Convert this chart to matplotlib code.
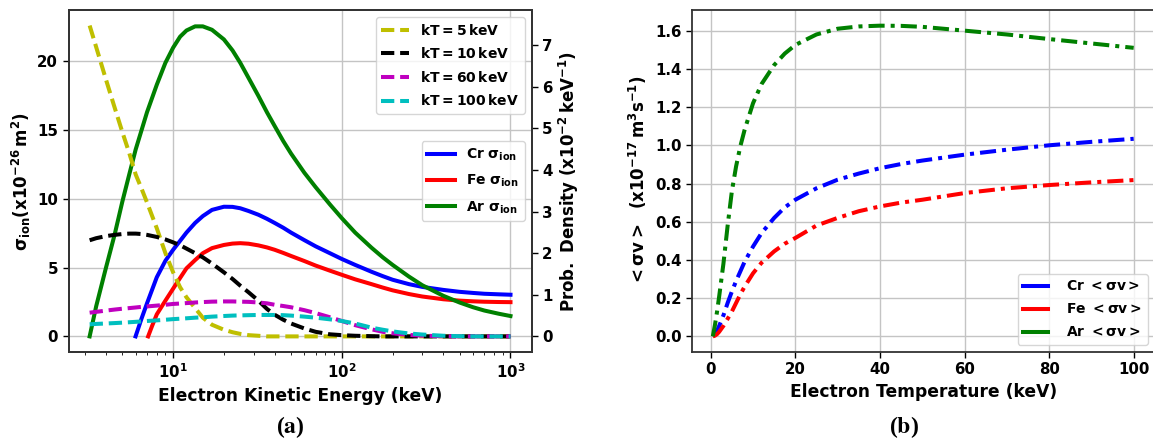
import matplotlib
matplotlib.use("Agg")
import matplotlib.pyplot as plt
import matplotlib.ticker as mticker
import numpy as np

plt.rcParams["font.family"] = ["DejaVu Sans"]
plt.rcParams["font.weight"] = "bold"
plt.rcParams["axes.labelweight"] = "bold"
plt.rcParams["mathtext.fontset"] = "dejavusans"
plt.rcParams["mathtext.default"] = "bf"

# ---- panel (a): ionisation cross sections vs. electron energy (keV) ----
energy = [3.2, 3.5, 4, 4.5, 5, 5.5, 6, 6.5, 7, 8, 9, 10, 11, 12, 13.5, 15,
          17, 20, 22.5, 25, 28, 32, 36, 40, 45, 50, 60, 70, 85, 100, 120,
          150, 175, 200, 250, 300, 400, 500, 600, 700, 850, 1000]

ar_sigma = [0.0, 2.2, 5.0, 7.4, 9.8, 11.8, 13.6, 15.0, 16.3, 18.3, 19.9,
            21.0, 21.8, 22.25, 22.55, 22.55, 22.3, 21.6, 20.8, 19.9, 18.8,
            17.5, 16.3, 15.3, 14.2, 13.3, 11.9, 10.85, 9.6, 8.6, 7.55, 6.45,
            5.75, 5.2, 4.35, 3.72, 2.95, 2.46, 2.12, 1.88, 1.65, 1.48]

cr_energy = [5.99, 6.5, 7, 8, 9, 10, 11, 12, 13.5, 15, 17, 20, 22.5, 25, 28,
             32, 36, 40, 45, 50, 60, 70, 85, 100, 120, 150, 175, 200, 250,
             300, 400, 500, 600, 700, 850, 1000]
cr_sigma = [0.0, 1.3, 2.4, 4.3, 5.5, 6.3, 6.95, 7.55, 8.25, 8.75, 9.2, 9.43,
            9.42, 9.32, 9.12, 8.85, 8.55, 8.25, 7.9, 7.55, 7.0, 6.55, 6.05,
            5.63, 5.2, 4.7, 4.38, 4.12, 3.8, 3.6, 3.38, 3.24, 3.16, 3.1,
            3.06, 3.03]

fe_energy = [7.11, 7.5, 8, 9, 10, 11, 12, 13.5, 15, 17, 20, 22.5, 25, 28, 32,
             36, 40, 45, 50, 60, 70, 85, 100, 120, 150, 175, 200, 250, 300,
             400, 500, 600, 700, 850, 1000]
fe_sigma = [0.0, 0.75, 1.6, 2.6, 3.47, 4.25, 4.95, 5.55, 6.05, 6.42, 6.65,
            6.75, 6.78, 6.74, 6.62, 6.47, 6.3, 6.07, 5.85, 5.48, 5.15, 4.78,
            4.48, 4.15, 3.8, 3.55, 3.35, 3.08, 2.9, 2.7, 2.6, 2.55, 2.52,
            2.5, 2.49]

# Electron energy distributions (x1e-2 per keV), sampled on `energy`
pdf_kt5 = [7.47, 6.95, 6.17, 5.5, 4.91, 4.4, 3.89, 3.55, 3.22, 2.6, 2.0,
           1.54, 1.18, 0.94, 0.68, 0.45, 0.28, 0.16, 0.1, 0.06, 0.03, 0.015,
           0.0, 0.0, 0.0, 0.0, 0.0, 0.0, 0.0, 0.0, 0.0, 0.0, 0.0, 0.0, 0.0,
           0.0, 0.0, 0.0, 0.0, 0.0, 0.0, 0.0]
pdf_kt10 = [2.31, 2.36, 2.41, 2.44, 2.46, 2.47, 2.47, 2.46, 2.44, 2.39,
            2.33, 2.26, 2.19, 2.11, 2.0, 1.9, 1.75, 1.54, 1.38, 1.22, 1.06,
            0.86, 0.66, 0.52, 0.4, 0.31, 0.19, 0.11, 0.05, 0.03, 0.015,
            0.005, 0.0, 0.0, 0.0, 0.0, 0.0, 0.0, 0.0, 0.0, 0.0, 0.0]
pdf_kt60 = [0.57, 0.59, 0.62, 0.645, 0.665, 0.68, 0.695, 0.71, 0.72, 0.74,
            0.76, 0.78, 0.79, 0.8, 0.815, 0.825, 0.835, 0.84, 0.84, 0.835,
            0.83, 0.815, 0.795, 0.76, 0.73, 0.7, 0.63, 0.56, 0.46, 0.37,
            0.27, 0.17, 0.11, 0.075, 0.035, 0.017, 0.004, 0.0, 0.0, 0.0,
            0.0, 0.0]
pdf_kt100 = [0.29, 0.3, 0.31, 0.32, 0.33, 0.34, 0.35, 0.36, 0.37, 0.385,
             0.4, 0.415, 0.425, 0.435, 0.45, 0.46, 0.475, 0.49, 0.5, 0.505,
             0.51, 0.515, 0.515, 0.515, 0.51, 0.5, 0.475, 0.45, 0.41, 0.37,
             0.31, 0.21, 0.16, 0.12, 0.07, 0.045, 0.015, 0.005, 0.0, 0.0,
             0.0, 0.0]

kt_labels = [r"$kT = 5\,keV$", r"$kT = 10\,keV$", r"$kT = 60\,keV$",
             r"$kT = 100\,keV$"]
kt_colors = ["y", "k", "m", "c"]

# ---- panel (b): rate coefficients vs. electron temperature (keV) ----
temperature = [0.5, 1, 1.5, 2, 3, 4, 5, 6, 7, 8, 10, 12, 15, 17.5, 20, 25,
               30, 35, 40, 45, 50, 60, 70, 80, 90, 100]
cr_rate = [0.0, 0.012, 0.03, 0.055, 0.11, 0.175, 0.235, 0.29, 0.34, 0.39,
           0.47, 0.54, 0.62, 0.675, 0.715, 0.775, 0.82, 0.852, 0.88, 0.902,
           0.92, 0.951, 0.977, 1.0, 1.018, 1.034]
fe_rate = [0.0, 0.004, 0.012, 0.024, 0.055, 0.092, 0.13, 0.175, 0.22, 0.26,
           0.33, 0.385, 0.445, 0.485, 0.515, 0.58, 0.62, 0.655, 0.68, 0.7,
           0.715, 0.75, 0.775, 0.792, 0.806, 0.818]
ar_rate = [0.0, 0.06, 0.13, 0.21, 0.38, 0.58, 0.76, 0.89, 0.995, 1.08, 1.22,
           1.32, 1.42, 1.48, 1.525, 1.58, 1.61, 1.622, 1.626, 1.625, 1.62,
           1.60, 1.58, 1.556, 1.533, 1.51]

fig = plt.figure(figsize=(11.53, 4.41), dpi=100)
ax = fig.add_axes([0.0595, 0.202, 0.4015, 0.775])
ax2 = ax.twinx()
axb = fig.add_axes([0.6, 0.202, 0.4015, 0.775])

lw = 2.9
dash = (0, (3.3, 1.45))
dashdot = (0, (4, 1.5, 1, 1.5))

ax.plot(cr_energy, cr_sigma, color="b", lw=lw, label=r"$Cr\ \sigma_{ion}$")
ax.plot(fe_energy, fe_sigma, color="r", lw=lw, label=r"$Fe\ \sigma_{ion}$")
ax.plot(energy, ar_sigma, color="g", lw=lw, label=r"$Ar\ \sigma_{ion}$")
for pdf, c, lab in zip([pdf_kt5, pdf_kt10, pdf_kt60, pdf_kt100],
                       kt_colors, kt_labels):
    ax2.plot(energy, pdf, color=c, lw=lw, ls=dash, label=lab)

ax.set_xscale("log")
ax.set_ylim(-1.13, 23.73)
ax2.set_ylim(-0.373, 7.84)
ax.set_yticks([0, 5, 10, 15, 20])
ax2.set_yticks(range(8))
ax.grid(True, which="major", color="#c4c4c4", lw=1.0)
ax.set_xlabel("Electron Kinetic Energy (keV)", fontsize=12.3)
ax.set_ylabel(r"$\sigma_{ion}(x10^{-26}\,m^2)$", fontsize=12, labelpad=3)
ax2.set_ylabel(r"$Prob.\ Density\ (x10^{-2}\,keV^{-1})$", fontsize=12,
               labelpad=3)

leg_sig = ax.legend(loc="center right", fontsize=10, labelspacing=0.72)
ax.get_legend().remove()
leg_kt = ax2.legend(loc="upper right", fontsize=10, labelspacing=0.62)
ax2.add_artist(leg_sig)

axb.plot(temperature, cr_rate, color="b", lw=lw, ls=dashdot,
         label=r"$Cr\ <\sigma v>$")
axb.plot(temperature, fe_rate, color="r", lw=lw, ls=dashdot,
         label=r"$Fe\ <\sigma v>$")
axb.plot(temperature, ar_rate, color="g", lw=lw, ls=dashdot,
         label=r"$Ar\ <\sigma v>$")
axb.set_xticks(range(0, 101, 20))
axb.set_yticks(np.arange(0, 1.61, 0.2))
axb.yaxis.set_major_formatter(mticker.FormatStrFormatter("%.1f"))
axb.grid(True, color="#c4c4c4", lw=1.0)
axb.set_xlabel("Electron Temperature (keV)", fontsize=12.3)
axb.set_ylabel(r"$<\sigma v>\ \ (x10^{-17}\,m^3s^{-1})$", fontsize=12)
leg_b = axb.legend(loc="lower right", fontsize=10, labelspacing=0.65,
                   handlelength=1.8, handletextpad=1.3)
for h in leg_b.get_lines():
    h.set_linestyle("-")

for a in (ax, ax2, axb):
    a.tick_params(labelsize=10.8, width=1.0, length=4)
    for s in a.spines.values():
        s.set_linewidth(1.3)
        s.set_color("#333333")
    for t in a.get_xticklabels() + a.get_yticklabels():
        t.set_fontweight("bold")

fig.text(0.252, 0.032, r"($\mathbf{a}$)", ha="center", va="center",
         fontsize=17, family="Liberation Serif", math_fontfamily="stix")
fig.text(0.784, 0.032, r"($\mathbf{b}$)", ha="center", va="center",
         fontsize=17, family="Liberation Serif", math_fontfamily="stix")

fig.savefig("out.png", dpi=100)
